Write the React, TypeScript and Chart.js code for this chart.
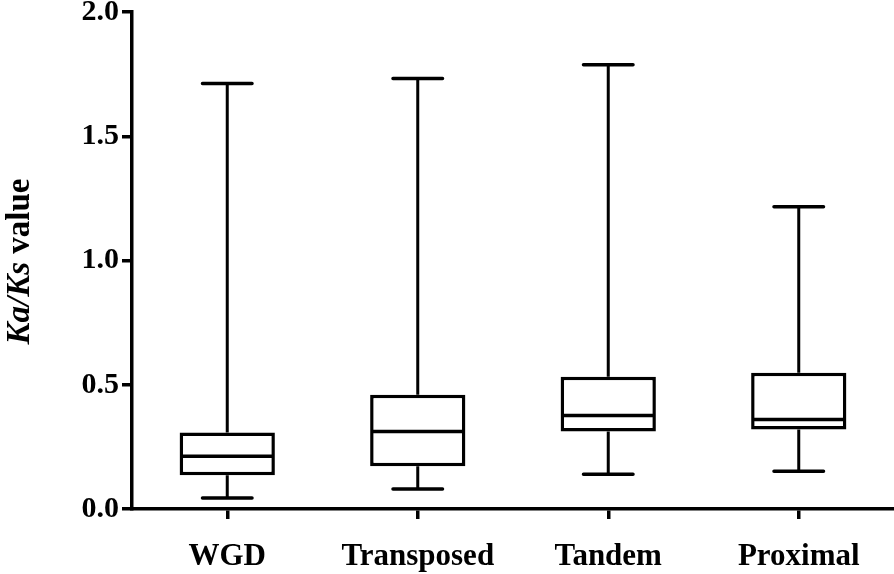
import React, { useEffect, useRef } from 'react';
import { Chart, registerables } from 'chart.js';

Chart.register(...registerables);

const categories = ['WGD', 'Transposed', 'Tandem', 'Proximal'];
const minValues = [0.044, 0.08, 0.14, 0.152];
const q1Values = [0.136, 0.172, 0.312, 0.32];
const medianValues = [0.212, 0.312, 0.376, 0.36];
const q3Values = [0.308, 0.46, 0.532, 0.548];
const maxValues = [1.712, 1.732, 1.788, 1.216];
const yTickValues = [0, 0.5, 1.0, 1.5, 2.0];

const FONT = '"Liberation Serif", "Times New Roman", serif';

const whiskerPlugin = {
  id: 'whiskers',
  afterDatasetsDraw(chart: any) {
    const ctx = chart.ctx;
    const xs = chart.scales.x;
    const ys = chart.scales.y;
    const meta = chart.getDatasetMeta(0);
    ctx.save();
    ctx.strokeStyle = '#000';
    categories.forEach((_, i) => {
      const x = xs.getPixelForValue(i);
      const bw = meta.data[i].width;
      const half = bw / 2;
      const capHalf = bw * 0.26;
      const yMin = ys.getPixelForValue(minValues[i]);
      const yQ1 = ys.getPixelForValue(q1Values[i]);
      const yMed = ys.getPixelForValue(medianValues[i]);
      const yQ3 = ys.getPixelForValue(q3Values[i]);
      const yMax = ys.getPixelForValue(maxValues[i]);
      ctx.lineCap = 'butt';
      ctx.lineWidth = 3;
      ctx.beginPath();
      ctx.moveTo(x, yQ3);
      ctx.lineTo(x, yMax);
      ctx.moveTo(x, yQ1);
      ctx.lineTo(x, yMin);
      ctx.stroke();
      ctx.lineWidth = 3.5;
      ctx.beginPath();
      ctx.moveTo(x - half + 2, yMed);
      ctx.lineTo(x + half - 2, yMed);
      ctx.stroke();
      ctx.lineCap = 'round';
      ctx.lineWidth = 3.5;
      ctx.beginPath();
      ctx.moveTo(x - capHalf, yMax);
      ctx.lineTo(x + capHalf, yMax);
      ctx.moveTo(x - capHalf, yMin);
      ctx.lineTo(x + capHalf, yMin);
      ctx.stroke();
    });
    ctx.restore();
  },
};

const yTitlePlugin = {
  id: 'yTitle',
  afterDraw(chart: any) {
    const ctx = chart.ctx;
    const area = chart.chartArea;
    const size = 33;
    const italicPart = 'Ka/Ks';
    const plainPart = ' value';
    ctx.save();
    ctx.fillStyle = '#000';
    ctx.font = `italic bold ${size}px ${FONT}`;
    const w1 = ctx.measureText(italicPart).width;
    ctx.font = `bold ${size}px ${FONT}`;
    const w2 = ctx.measureText(plainPart).width;
    const total = w1 + w2;
    const cy = (area.top + area.bottom) / 2 + 1;
    ctx.translate(29, cy);
    ctx.rotate(-Math.PI / 2);
    ctx.textBaseline = 'alphabetic';
    ctx.textAlign = 'left';
    ctx.font = `italic bold ${size}px ${FONT}`;
    ctx.fillText(italicPart, -total / 2, 0);
    ctx.font = `bold ${size}px ${FONT}`;
    ctx.fillText(plainPart, -total / 2 + w1, 0);
    ctx.restore();
  },
};

export default function App() {
  const ref = useRef<HTMLCanvasElement | null>(null);
  useEffect(() => {
    document.body.style.margin = '0';
    const canvas = ref.current;
    if (!canvas) return;
    const chart = new Chart(canvas, {
      type: 'bar',
      data: {
        labels: categories,
        datasets: [
          {
            data: categories.map((_, i) => [q1Values[i], q3Values[i]]),
            backgroundColor: '#fff',
            borderColor: '#000',
            borderWidth: 3.5,
            borderSkipped: false,
            barPercentage: 0.5,
            categoryPercentage: 1.0,
          } as any,
        ],
      },
      options: {
        responsive: false,
        animation: false,
        devicePixelRatio: 1,
        layout: { padding: { top: 10, right: 0, left: 0, bottom: 0 } },
        plugins: {
          legend: { display: false },
          tooltip: { enabled: false },
          title: { display: false },
        },
        scales: {
          x: {
            offset: true,
            grid: {
              display: true,
              offset: false,
              drawOnChartArea: false,
              drawTicks: true,
              tickLength: 10,
              lineWidth: 3.5,
              color: '#000',
            },
            border: { display: true, width: 3.5, color: '#000' },
            ticks: {
              color: '#000',
              padding: 22,
              font: { family: FONT, weight: 'bold', size: 31, lineHeight: 1 },
            },
            afterFit: (scale: any) => {
              scale.height = 65;
            },
          },
          y: {
            min: 0,
            max: 2,
            grid: {
              display: true,
              drawOnChartArea: false,
              drawTicks: true,
              tickLength: 10,
              lineWidth: 3.5,
              color: '#000',
            },
            border: { display: true, width: 3.5, color: '#000' },
            afterBuildTicks: (scale: any) => {
              scale.ticks = yTickValues.map((v) => ({ value: v }));
            },
            ticks: {
              color: '#000',
              padding: 3,
              font: { family: FONT, weight: 'bold', size: 30, lineHeight: 0.6 },
              callback: (v: any) => Number(v).toFixed(1),
            },
            afterFit: (scale: any) => {
              scale.width = 132;
            },
          },
        },
      },
      plugins: [whiskerPlugin, yTitlePlugin],
    });
    return () => chart.destroy();
  }, []);
  return (
    <div style={{ width: 894, height: 574 }}>
      <canvas ref={ref} width={894} height={574} style={{ display: 'block' }} />
    </div>
  );
}
